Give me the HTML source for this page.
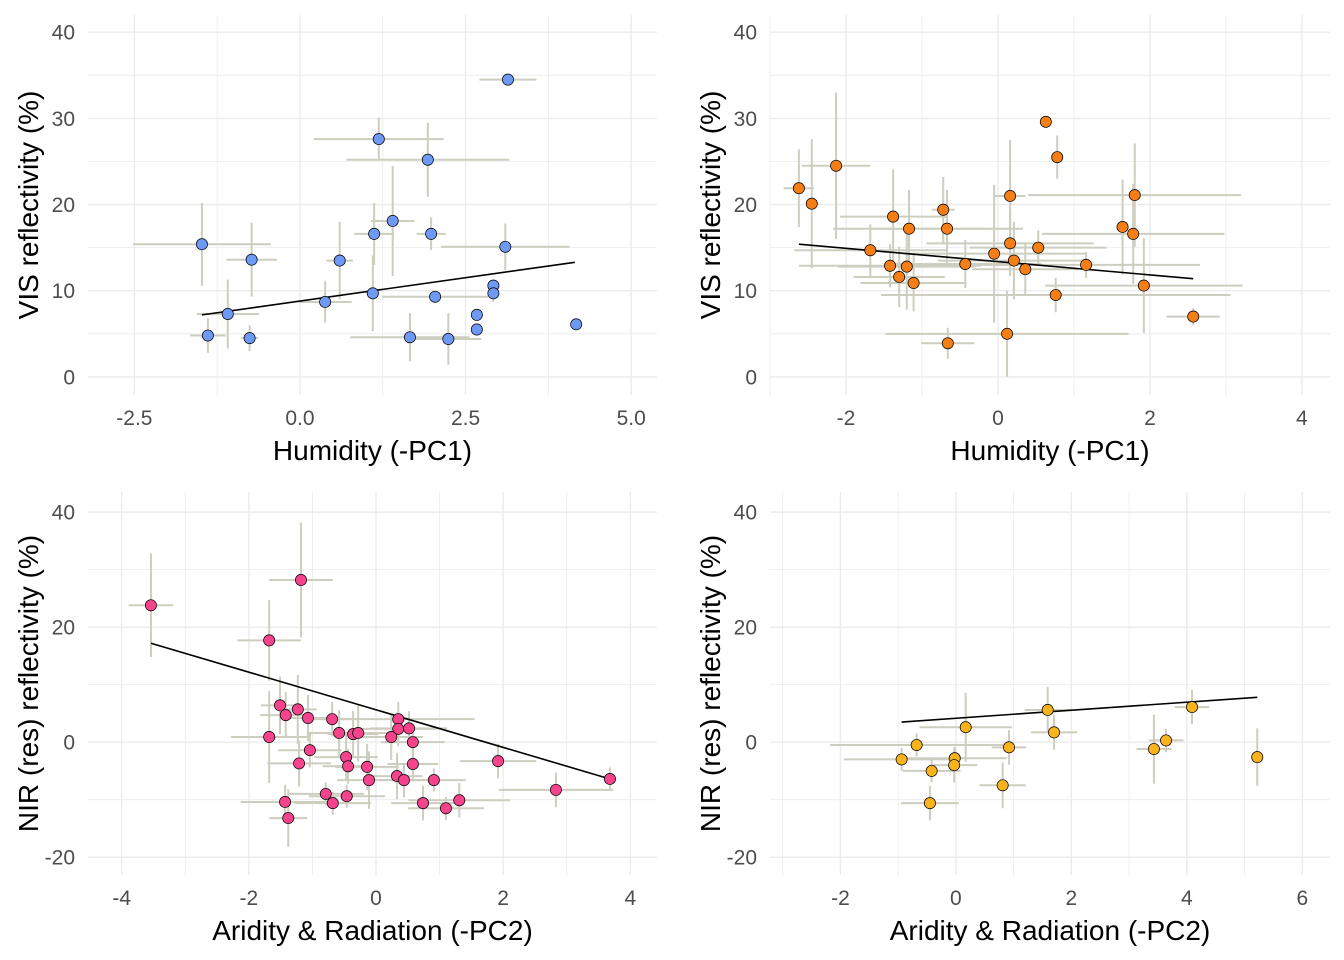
<!DOCTYPE html>
<html><head><meta charset="utf-8"><style>
html,body{margin:0;padding:0;background:#fff;}
svg{display:block;font-family:"Liberation Sans",Arial,sans-serif;}
</style></head><body>
<svg id="chart" width="1344" height="960" viewBox="0 0 1344 960"></svg>
<script>
// Panel 1: VIS vs Humidity
const p1x=[3.14,1.19,1.93,1.40,1.12,1.98,-1.48,3.10,-0.73,0.60,0.38,1.10,2.04,2.92,2.92,2.67,2.67,4.17,-1.09,-1.39,-0.76,1.66,2.24];
const p1y=[34.5,27.6,25.2,18.1,16.6,16.6,15.4,15.1,13.6,13.5,8.7,9.7,9.3,10.6,9.7,7.2,5.5,6.1,7.3,4.8,4.5,4.6,4.4];
const p1xe=[0.43,0.98,1.23,0.33,0.3,0.22,1.04,0.97,0.38,0.2,0.4,0.1,0.8,0,0,0,0,0,0.47,0.27,0.13,0.9,0.5];
const p1ye=[0,2.5,4.3,6.4,3.6,1.9,4.8,2.7,4.3,4.5,2.4,4.4,0,0,1.0,0,0,0,4.0,2.0,1.5,2.8,3.0];
const p1line=[[-1.48,7.2],[4.15,13.3]];
// Panel 2: VIS vs Humidity
const p2x=[0.63,0.78,-2.13,-2.62,-2.45,0.16,1.80,-0.72,-1.38,1.64,1.78,-1.17,-0.67,0.16,0.53,-1.68,-0.05,0.21,-0.43,0.36,1.16,-1.42,-1.20,-1.30,-1.11,1.92,0.76,0.12,-0.66,2.57];
const p2y=[29.6,25.5,24.5,21.9,20.1,21.0,21.1,19.4,18.6,17.4,16.6,17.2,17.2,15.5,15.0,14.7,14.3,13.5,13.1,12.5,13.0,12.9,12.8,11.6,10.9,10.6,9.5,5.0,3.9,7.0];
const p2xe=[0,0,0.45,0.2,0,0.2,1.4,0.15,0.7,0,1.2,1.0,1.0,1.1,0.9,1.0,1.2,1.0,1.0,0.7,1.5,1.2,0.9,0.6,0.7,1.3,2.3,1.6,0.35,0.35];
const p2ye=[0,2.5,8.5,4.5,7.5,6.5,6.0,3.8,5.5,5.5,5.8,4.5,4.5,3.8,2.0,3.0,8.0,4.5,2.8,3.0,1.5,2.5,5.0,3.5,3.3,5.5,2.0,5.0,1.8,1.0];
const p2line=[[-2.62,15.4],[2.57,11.4]];
// Panel 3: NIR vs Aridity
const p3x=[-3.54,-1.18,-1.68,-1.51,-1.23,-1.42,-1.07,-0.69,-1.68,-0.58,-0.36,-0.28,0.35,0.35,0.52,0.24,0.58,-1.04,-0.47,-0.44,-1.21,-0.14,0.58,-0.11,0.33,0.44,0.91,1.92,-0.79,-0.68,-0.46,-1.43,0.74,1.31,1.10,-1.38,2.83,3.68];
const p3y=[23.8,28.2,17.7,6.4,5.7,4.7,4.2,4.0,0.9,1.6,1.4,1.6,4.0,2.3,2.4,0.9,0,-1.4,-2.6,-4.2,-3.7,-4.3,-3.8,-6.6,-5.9,-6.6,-6.6,-3.3,-9.0,-10.6,-9.4,-10.4,-10.6,-10.1,-11.5,-13.2,-8.3,-6.4];
const p3xe=[0.35,0.5,0.5,0.3,0.3,0.4,0.4,0.4,0.6,0.5,0.4,0.7,1.2,0.6,0.6,0.5,0.5,0.5,0.5,0.4,0.5,0.5,0.4,0.5,0.4,0.4,0.5,0.6,0.6,0.6,0.6,0.7,0.5,0.8,0.6,0.3,0.9,0.1];
const p3ye=[9,10,7,5,6,4,4,3,8,4,4,5,3,3,3,4,3,3,4,3,4,4,3,5,4,3,2,3,2,2,2,3,3,3,2,5,3,2];
const p3line=[[-3.54,17.2],[3.68,-6.4]];
// Panel 4: NIR vs Aridity
const p4x=[1.59,4.09,-0.68,0.17,1.70,3.64,3.43,0.92,-0.94,-0.02,-0.03,-0.42,5.22,0.81,-0.45];
const p4y=[5.6,6.1,-0.5,2.6,1.7,0.3,-1.2,-0.9,-3.0,-2.8,-4.0,-5.0,-2.6,-7.5,-10.6];
const p4xe=[0.4,0.3,1.5,0.8,0.4,0.3,0.3,0.3,1.0,0.9,0.4,0.5,0,0.4,0.5];
const p4ye=[4,3,2,6,3,2,6,3,2,2,3,2,5,4,3];
const p4line=[[-0.94,3.5],[5.22,7.8]];

const NS="http://www.w3.org/2000/svg";
const svg=document.getElementById('chart');
function mk(tag,attrs,parent){const e=document.createElementNS(NS,tag);for(const k in attrs)e.setAttribute(k,attrs[k]);(parent||svg).appendChild(e);return e;}

function panel(cfg){
  const g=mk('g',{});
  
  
  const X=v=>cfg.l+(v-cfg.x0)/(cfg.x1-cfg.x0)*(cfg.r-cfg.l);
  const Y=v=>cfg.b-(v-cfg.y0)/(cfg.y1-cfg.y0)*(cfg.b-cfg.t);
  const xs=cfg.xt, ys=cfg.yt;
  const dx=(xs[1]-xs[0])/2, dy=(ys[1]-ys[0])/2;
  for(let v=xs[0]-dx*4;v<=cfg.x1;v+=dx){if(v<cfg.x0)continue;const major=xs.some(t=>Math.abs(t-v)<1e-6);
    const ln=mk('line',{x1:X(v),x2:X(v),y1:cfg.t,y2:cfg.b,stroke:'#ebebeb','stroke-width':major?1.4:0.8},g);
    
    }
  for(let v=ys[0]-dy*4;v<=cfg.y1;v+=dy){if(v<cfg.y0)continue;const major=ys.some(t=>Math.abs(t-v)<1e-6);
    const ln=mk('line',{x1:cfg.l,x2:cfg.r,y1:Y(v),y2:Y(v),stroke:'#ebebeb','stroke-width':major?1.4:0.8},g);
    
    }
  xs.forEach((t,i)=>{const tx=mk('text',{x:X(t),y:cfg.b+30,'text-anchor':'middle','font-size':21,fill:'#4d4d4d'},g);tx.textContent=cfg.xl[i];
    
    });
  ys.forEach((t,i)=>{const tx=mk('text',{x:cfg.l-13,y:Y(t)+7.5,'text-anchor':'end','font-size':21,fill:'#4d4d4d'},g);tx.textContent=cfg.yl[i];
    
    });
  const xt=mk('text',{x:(cfg.l+cfg.r)/2,y:cfg.b+65,'text-anchor':'middle','font-size':28,fill:'#000'},g);xt.textContent=cfg.xtitle;
  
  
  const yc=(cfg.t+cfg.b)/2, yx=cfg.l-50;
  const yt=mk('text',{x:yx,y:yc,'text-anchor':'middle','font-size':28,fill:'#000',transform:`rotate(-90 ${yx} ${yc})`},g);yt.textContent=cfg.ytitle;
  
  
  cfg.px.forEach((x,i)=>{const y=cfg.py[i];
    if(cfg.xe[i]>0){const e=mk('line',{x1:X(x-cfg.xe[i]),x2:X(x+cfg.xe[i]),y1:Y(y),y2:Y(y),stroke:'#cdcdc0','stroke-width':2},g);
      
      }
    if(cfg.ye[i]>0){const e=mk('line',{x1:X(x),x2:X(x),y1:Y(y-cfg.ye[i]),y2:Y(y+cfg.ye[i]),stroke:'#cdcdc0','stroke-width':2},g);
      
      }
  });
  const L=mk('line',{x1:X(cfg.line[0][0]),y1:Y(cfg.line[0][1]),x2:X(cfg.line[1][0]),y2:Y(cfg.line[1][1]),stroke:'#000','stroke-width':1.6},g);
  
  
  cfg.px.forEach((x,i)=>{const c=mk('circle',{cx:X(x),cy:Y(cfg.py[i]),r:5.6,fill:cfg.col,stroke:'#000','stroke-width':0.7},g);
    
    });
}
panel({name:'panel-vis-humidity-blue',l:88,r:657,t:15,b:395,x0:-3.2,x1:5.39,y0:-2.1,y1:42,xt:[-2.5,0,2.5,5],xl:['-2.5','0.0','2.5','5.0'],yt:[0,10,20,30,40],yl:['0','10','20','30','40'],xtitle:'Humidity (-PC1)',ytitle:'VIS reflectivity (%)',px:p1x,py:p1y,xe:p1xe,ye:p1ye,line:p1line,col:'#6e9af5'});
panel({name:'panel-vis-humidity-orange',l:770,r:1330,t:15,b:395,x0:-3.0,x1:4.37,y0:-2.1,y1:42,xt:[-2,0,2,4],xl:['-2','0','2','4'],yt:[0,10,20,30,40],yl:['0','10','20','30','40'],xtitle:'Humidity (-PC1)',ytitle:'VIS reflectivity (%)',px:p2x,py:p2y,xe:p2xe,ye:p2ye,line:p2line,col:'#f57e16'});
panel({name:'panel-nir-aridity-pink',l:88,r:657,t:492,b:875,x0:-4.53,x1:4.42,y0:-23.1,y1:43.5,xt:[-4,-2,0,2,4],xl:['-4','-2','0','2','4'],yt:[-20,0,20,40],yl:['-20','0','20','40'],xtitle:'Aridity & Radiation (-PC2)',ytitle:'NIR (res) reflectivity (%)',px:p3x,py:p3y,xe:p3xe,ye:p3ye,line:p3line,col:'#f5448c'});
panel({name:'panel-nir-aridity-yellow',l:770,r:1330,t:492,b:875,x0:-3.22,x1:6.48,y0:-23.1,y1:43.5,xt:[-2,0,2,4,6],xl:['-2','0','2','4','6'],yt:[-20,0,20,40],yl:['-20','0','20','40'],xtitle:'Aridity & Radiation (-PC2)',ytitle:'NIR (res) reflectivity (%)',px:p4x,py:p4y,xe:p4xe,ye:p4ye,line:p4line,col:'#f9b31c'});
</script>
</body></html>
